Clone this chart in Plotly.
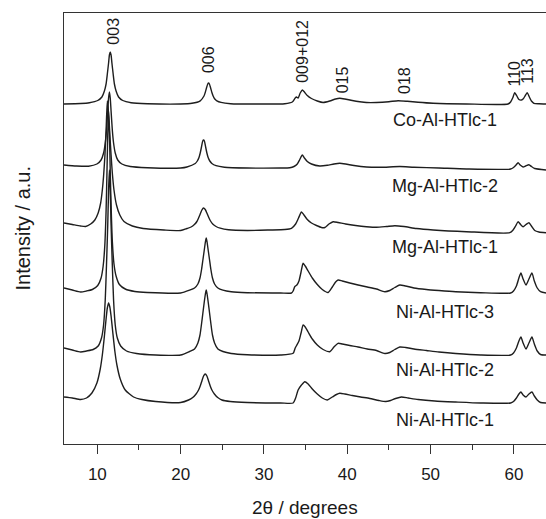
import plotly.graph_objects as go

# ---------------- data (2theta in degrees, intensity above each pattern's baseline, a.u.) ----------------
samples = ["Co-Al-HTlc-1", "Mg-Al-HTlc-2", "Mg-Al-HTlc-1", "Ni-Al-HTlc-3", "Ni-Al-HTlc-2", "Ni-Al-HTlc-1"]
offsets = [340, 276, 213, 151, 89, 41]

co_al_1 = [(6.0,0),(8.0,0.5),(9.05,1.3),(10.05,3.5),(10.55,7),(10.85,13),(11.05,20),(11.2,30),(11.35,41),(11.45,49),
           (11.55,52),(11.65,49),(11.75,41),(11.9,30),(12.05,20),(12.25,13),(12.55,7),(13.05,3.5),(14.05,1.3),(16.0,0.3),
           (20.0,0),(21.35,0.7),(22.35,3.2),(22.8,8),(22.95,11.5),(23.1,16),(23.25,20),(23.35,21),(23.45,20),(23.6,16),
           (23.75,11.5),(23.9,8),(24.1,5),(24.35,3.2),(24.85,1.6),(26.0,0.3),(30.0,0),(32.5,0.3),(33.4,2),(33.75,6),
           (33.9,7),(34.1,6),(34.35,11),(34.6,14),(34.85,12),(35.2,8.5),(35.7,5.5),(36.4,3),(37.1,1.5),(37.9,3),
           (38.6,5),(39.1,5.7),(39.7,5),(40.6,3.5),(41.5,2.3),(42.3,1.5),(43.5,1.5),(45.0,2.3),(46.1,3.3),(47.2,2.7),
           (48.5,1.7),(50.3,0.7),(54.3,0),(59.3,0),(59.6,2),(59.85,6),(60.1,11.3),(60.35,8),(60.6,4.5),(60.9,4),
           (61.15,5.5),(61.4,9),(61.6,11.3),(61.85,7),(62.1,3),(62.4,0.7),(63.0,0.2),(63.85,0)]

mg_al_2 = [(6.0,3),(7.5,2),(8.95,1.8),(9.95,4),(10.45,8),(10.75,15),(10.95,25),(11.1,38),(11.25,57),(11.35,70),
           (11.45,76),(11.55,70),(11.65,57),(11.8,38),(11.95,25),(12.15,15),(12.45,8),(12.95,4),(13.95,1.5),(16.0,0.3),
           (20.0,0),(20.75,1),(21.75,4.5),(22.0,7),(22.2,10.5),(22.35,15),(22.5,21),(22.65,27),(22.75,28),(22.85,27),
           (23.0,21),(23.15,15),(23.3,10.5),(23.5,7),(23.75,4.5),(24.25,2.3),(25.25,0.8),(28.0,0),(32.0,0),(33.1,0.3),
           (33.6,1.5),(34.0,4),(34.3,8.5),(34.6,13),(34.85,10),(35.2,6.5),(35.7,4),(36.7,2),(37.6,2.7),(38.4,4),
           (39.1,4.7),(39.8,4),(40.8,2.5),(42.3,1),(44.0,0.7),(46.3,1.5),(48.0,0.8),(51.0,0),(54.3,-1),(59.6,-1),
           (59.95,0.5),(60.25,3),(60.5,5.3),(60.75,3),(61.1,1),(61.4,2),(61.8,3.3),(62.1,1.5),(62.5,-0.5),(63.85,-2)]

mg_al_1 = [(6.0,8),(7.0,6.5),(8.0,5),(8.6,4.5),(9.2,7),(9.7,11),(10.1,18),(10.4,28),(10.6,41),(10.75,55),
           (10.9,74),(11.05,100),(11.2,130),(11.35,118),(11.5,97),(11.65,76),(11.8,58),(12.0,41),(12.3,26),(12.7,16),
           (13.2,9.5),(14.2,5),(15.5,2.5),(18.0,1),(20.0,0.5),(20.75,2.5),(21.25,4),(21.65,6.5),(21.95,9.5),(22.15,13),
           (22.35,17),(22.55,21),(22.75,23),(22.95,21.5),(23.15,18),(23.35,14),(23.55,10.5),(23.85,7),(24.25,4.5),(24.75,2.8),
           (25.75,1.2),(28.0,0.5),(30.7,1),(32.5,1.5),(33.3,2.7),(33.8,7),(34.15,13),(34.5,19),(34.8,16),(35.2,11.5),
           (35.7,8),(36.3,5.5),(36.9,3.5),(37.3,3.5),(37.8,7),(38.3,9.3),(38.9,8.5),(39.8,7),(41.0,5.5),(42.3,4.3),
           (43.5,3.7),(44.7,4.5),(45.7,5.3),(46.8,4.5),(48.3,2.5),(50.3,1),(54.3,-0.7),(59.5,-1.7),(59.9,1),(60.2,5),
           (60.5,9.3),(60.8,6.5),(61.1,4.3),(61.45,6.5),(61.8,8.3),(62.1,5),(62.5,0.5),(63.0,-1),(63.85,-1.7)]

ni_al_3 = [(6.0,5),(7.0,3),(8.0,1),(8.7,2),(9.4,3.5),(10.05,7.5),(10.45,15),(10.7,27),(10.9,48),(11.05,82),
           (11.15,118),(11.25,158),(11.35,181),(11.45,160),(11.55,122),(11.65,88),(11.8,52),(12.0,29),(12.25,17),(12.65,8.5),
           (13.35,4),(14.5,1.5),(16.0,0.5),(20.0,0),(21.07,2.8),(21.67,5),(22.07,9),(22.32,15),(22.52,24),(22.67,33),
           (22.82,42),(22.97,51),(23.07,55),(23.17,51),(23.32,42),(23.47,33),(23.62,24),(23.82,15),(24.07,9),(24.47,5),
           (25.07,2.8),(26.07,1.2),(28.0,0.3),(32.0,0),(33.3,0),(33.5,2),(33.7,6.3),(33.95,8),(34.2,12),(34.45,21),
           (34.7,29.7),(34.95,27),(35.3,22),(35.8,15),(36.4,8.5),(37.0,3.5),(37.7,0.5),(38.2,6),(38.6,11),(38.9,13),
           (39.4,12),(40.3,10),(41.3,8),(42.4,6),(43.5,4),(44.5,1.3),(45.1,2.5),(45.7,5.5),(46.3,8),(47.0,7),
           (48.0,5),(49.5,3.5),(51.0,2.5),(53.0,1.3),(56.0,0.3),(59.6,0),(59.95,2),(60.3,7),(60.6,15),(60.84,20),
           (61.1,14),(61.45,8),(61.8,14),(62.16,20),(62.45,12),(62.8,5),(63.2,1.3),(63.85,0)]

ni_al_2 = [(6.0,7),(7.0,5),(8.0,3),(8.7,4),(9.5,5.5),(10.1,9),(10.5,17),(10.75,30),(10.95,55),(11.1,90),
           (11.25,130),(11.35,165),(11.45,185),(11.55,165),(11.65,130),(11.8,90),(11.95,55),(12.15,30),(12.4,17),(12.8,9),
           (13.5,4),(14.7,1.5),(17.0,0),(20.0,0),(21.07,3.5),(21.67,6),(22.07,12),(22.32,20),(22.52,32),(22.67,42),
           (22.82,52),(22.97,61),(23.07,65),(23.17,61),(23.32,52),(23.47,42),(23.62,32),(23.82,20),(24.07,12),(24.47,6),
           (25.07,3.5),(26.07,1.5),(28.0,0.3),(32.0,0),(33.5,1.7),(33.75,7),(33.95,10),(34.2,14),(34.45,22),(34.7,30),
           (34.95,28),(35.3,23),(35.8,16),(36.4,10),(37.1,5.5),(37.9,3.3),(38.4,8),(38.9,11.7),(39.4,11),(40.3,9.5),
           (41.3,8),(42.4,6),(43.5,4.5),(44.5,1.5),(45.1,2.5),(45.7,5.5),(46.3,8),(47.0,7.5),(48.0,6),(49.5,4.5),
           (51.0,3),(53.0,1.5),(56.0,0),(59.6,0),(59.95,2),(60.3,7),(60.6,14),(60.84,18),(61.1,12),(61.45,6),
           (61.8,12),(62.16,18),(62.45,11),(62.8,4),(63.2,0.5),(63.85,0)]

ni_al_1 = [(6.0,6),(7.0,5),(8.0,3.5),(8.7,5),(9.35,10),(9.95,20),(10.35,34),(10.6,48),(10.85,67),(11.05,84),
           (11.2,95),(11.35,100),(11.5,96),(11.65,87),(11.85,71),(12.1,52),(12.35,38),(12.75,24),(13.35,13),(14.35,6),
           (15.35,3.5),(17.0,1.5),(20.0,0.5),(20.95,3),(21.45,5.5),(21.85,9),(22.15,13),(22.35,17),(22.55,22),(22.75,27),
           (22.95,29),(23.15,27),(23.35,22),(23.55,17),(23.75,13),(24.05,9),(24.45,5.5),(24.95,3),(25.95,1.5),(28.0,0.5),
           (32.0,0),(33.5,0),(33.8,5),(34.1,13),(34.5,18),(34.9,21.3),(35.3,19),(35.8,14),(36.4,9),(37.0,5),
           (37.6,3),(38.2,6),(38.7,8.5),(39.1,9.7),(39.7,9),(40.6,7.5),(41.6,6),(42.7,4.5),(43.8,2.5),(44.6,1.5),
           (45.2,2.5),(45.8,4.5),(46.5,6),(47.3,5),(48.5,3.5),(50.5,2),(53.0,1),(56.0,0),(59.6,0),(59.95,1.5),
           (60.3,5),(60.6,9),(60.84,11),(61.1,8),(61.45,6),(61.8,9),(62.16,11),(62.45,7),(62.8,3),(63.2,0.5),(63.85,0)]

patterns = [co_al_1, mg_al_2, mg_al_1, ni_al_3, ni_al_2, ni_al_1]

peak_labels = ["003", "006", "009+012", "015", "018", "110", "113"]
peak_label_2theta = [11.9, 23.35, 34.6, 39.4, 46.8, 59.95, 61.6]

x_tick_vals = [10, 20, 30, 40, 50, 60]
x_tick_text = ["10", "20", "30", "40", "50", "60"]

# ---------------- layout helpers (positions / styles) ----------------
peak_label_y = [397, 369, 359, 348.5, 348.5, 355, 358.5]
sample_label_x = 51.7
sample_label_y = [324, 258, 197, 132, 74, 24]

LINE = "#1e1e1e"
TEXT = "#1a1a1a"
FONT = "Liberation Sans, Arial, sans-serif"

fig = go.Figure()
for name, pts, off in zip(samples, patterns, offsets):
    fig.add_trace(go.Scatter(
        x=[p[0] for p in pts],
        y=[p[1] + off for p in pts],
        mode="lines", name=name,
        line=dict(color=LINE, width=1.4, shape="spline", smoothing=0.6),
        showlegend=False, hoverinfo="skip"))

annotations = []
for txt, xv, yv in zip(peak_labels, peak_label_2theta, peak_label_y):
    annotations.append(dict(x=xv, y=yv, xref="x", yref="y", text=txt, showarrow=False,
                            textangle=-90, xanchor="center", yanchor="bottom",
                            font=dict(family=FONT, size=16, color=TEXT)))
for txt, yv in zip(samples, sample_label_y):
    annotations.append(dict(x=sample_label_x, y=yv, xref="x", yref="y", text=txt, showarrow=False,
                            xanchor="center", yanchor="middle",
                            font=dict(family=FONT, size=18, color=TEXT)))
# axis titles
annotations.append(dict(x=0.5, y=0, xref="paper", yref="paper", text="2θ / degrees", showarrow=False,
                        xanchor="center", yanchor="middle", yshift=-63,
                        font=dict(family=FONT, size=19, color=TEXT)))
annotations.append(dict(x=0, y=0.5, xref="paper", yref="paper", text="Intensity / a.u.", showarrow=False,
                        textangle=-90, xanchor="center", yanchor="middle", xshift=-42,
                        font=dict(family=FONT, size=20, color=TEXT)))

fig.update_layout(
    width=546, height=519,
    margin=dict(l=64, r=0, t=13, b=75),
    paper_bgcolor="white", plot_bgcolor="white",
    annotations=annotations,
    xaxis=dict(range=[6, 63.85], showgrid=False, zeroline=False,
               showline=True, linecolor="#333333", linewidth=1.3, mirror=True,
               ticks="outside", ticklen=9, tickwidth=1.3, tickcolor="#333333",
               tickvals=x_tick_vals, ticktext=x_tick_text, ticklabelstandoff=5,
               tickfont=dict(family=FONT, size=17, color=TEXT),
               minor=dict(dtick=5, tick0=5, ticks="outside", ticklen=5, tickwidth=1.2, tickcolor="#333333")),
    yaxis=dict(range=[0, 431], showgrid=False, zeroline=False, showticklabels=False,
               showline=True, linecolor="#333333", linewidth=1.3, mirror=False, ticks=""),
)

fig.write_html("out.html")
